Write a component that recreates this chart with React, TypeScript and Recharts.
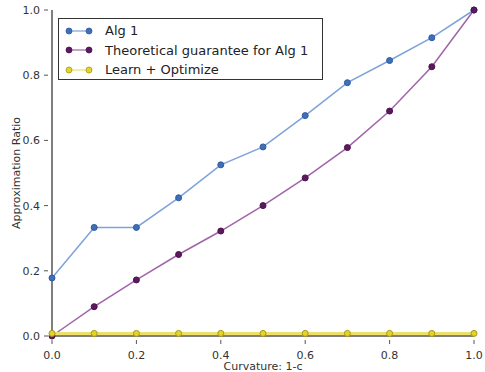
import React from 'react';
import { LineChart, Line, XAxis, YAxis } from 'recharts';

const curvature = [0, 0.1, 0.2, 0.3, 0.4, 0.5, 0.6, 0.7, 0.8, 0.9, 1.0];
const alg1 = [0.178, 0.333, 0.333, 0.424, 0.525, 0.58, 0.676, 0.777, 0.845, 0.915, 1.0];
const guarantee = [0.0, 0.09, 0.172, 0.25, 0.322, 0.4, 0.485, 0.578, 0.69, 0.826, 1.0];
const learnOpt = [0.008, 0.008, 0.008, 0.008, 0.008, 0.008, 0.008, 0.008, 0.008, 0.008, 0.008];
const ticks = [0, 0.2, 0.4, 0.6, 0.8, 1.0];

const data = curvature.map((c, i) => ({
  c,
  alg1: alg1[i],
  guarantee: guarantee[i],
  learnOpt: learnOpt[i],
}));

const FONT = '"DejaVu Sans", sans-serif';
const FRAME = '#555';

const series = [
  { key: 'alg1', name: 'Alg 1', line: '#7ea2da', dot: '#3f6fb8', dotStroke: '#2f5aa0' },
  { key: 'guarantee', name: 'Theoretical guarantee for Alg 1', line: '#a064a8', dot: '#5b1a5e', dotStroke: '#4a1050' },
  { key: 'learnOpt', name: 'Learn + Optimize', line: '#ecdf6a', dot: '#e3d32a', dotStroke: '#a89a10' },
];

// matplotlib-style ticks: small marks pointing into the plot
const BottomTick = (props: any) => {
  const { x, y, payload } = props;
  return (
    <g>
      <line x1={x} x2={x} y1={y} y2={y - 4} stroke={FRAME} />
      <text x={x} y={y + 15} textAnchor="middle" fontSize={11} fill="#333" fontFamily={FONT}>
        {payload.value.toFixed(1)}
      </text>
    </g>
  );
};
const TopTick = (props: any) => {
  const { x, y } = props;
  return <line x1={x} x2={x} y1={y} y2={y + 4} stroke={FRAME} />;
};
const LeftTick = (props: any) => {
  const { x, y, payload } = props;
  return (
    <g>
      <line x1={x} x2={x + 4} y1={y} y2={y} stroke={FRAME} />
      <text x={x - 4} y={y + 4} textAnchor="end" fontSize={11} fill="#333" fontFamily={FONT}>
        {payload.value.toFixed(1)}
      </text>
    </g>
  );
};
const RightTick = (props: any) => {
  const { x, y } = props;
  return <line x1={x} x2={x - 4} y1={y} y2={y} stroke={FRAME} />;
};

const LegendBox = () => (
  <div
    style={{
      position: 'absolute',
      left: 58,
      top: 18,
      border: '1px solid #333',
      background: '#fff',
      width: 265,
      height: 62,
      fontFamily: FONT,
      fontSize: 13,
      color: '#222',
      boxSizing: 'border-box',
      padding: '2px 0 0 6px',
    }}
  >
    {series.map((s) => (
      <div key={s.key} style={{ display: 'flex', alignItems: 'center', height: 19.5 }}>
        <svg width={32} height={10} style={{ marginRight: 8 }}>
          <line x1={4} x2={24} y1={5} y2={5} stroke={s.line} strokeWidth={1.2} />
          <circle cx={4} cy={5} r={3} fill={s.dot} stroke={s.dotStroke} strokeWidth={0.8} />
          <circle cx={24} cy={5} r={3} fill={s.dot} stroke={s.dotStroke} strokeWidth={0.8} />
        </svg>
        <span>{s.name}</span>
      </div>
    ))}
  </div>
);

export default function App() {
  return (
    <div style={{ position: 'absolute', left: 0, top: 0, width: 485, height: 372, background: '#fff' }}>
      <LineChart width={485} height={372} data={data} margin={{ top: 10, right: 11, left: 0, bottom: 0 }}>
        <XAxis
          xAxisId="b"
          dataKey="c"
          type="number"
          domain={[0, 1]}
          ticks={ticks}
          tick={<BottomTick />}
          tickLine={false}
          axisLine={{ stroke: FRAME, strokeWidth: 1.5 }}
          height={36}
          label={{ value: 'Curvature: 1-c', position: 'insideBottom', offset: 2, fontSize: 11, fill: '#333', fontFamily: FONT }}
        />
        <XAxis
          xAxisId="t"
          orientation="top"
          dataKey="c"
          type="number"
          domain={[0, 1]}
          ticks={ticks}
          tick={<TopTick />}
          tickLine={false}
          axisLine={{ stroke: FRAME, strokeWidth: 1.5 }}
          height={0}
        />
        <YAxis
          yAxisId="l"
          type="number"
          domain={[0, 1]}
          ticks={ticks}
          tick={<LeftTick />}
          tickLine={false}
          axisLine={{ stroke: FRAME, strokeWidth: 1.5 }}
          width={52}
          label={{ value: 'Approximation Ratio', angle: -90, position: 'insideLeft', offset: 16, fontSize: 11, fill: '#333', fontFamily: FONT, style: { textAnchor: 'middle' } }}
        />
        <YAxis
          yAxisId="r"
          orientation="right"
          type="number"
          domain={[0, 1]}
          ticks={ticks}
          tick={<RightTick />}
          tickLine={false}
          axisLine={{ stroke: FRAME, strokeWidth: 1.5 }}
          width={0}
        />
        {series.map((s) => (
          <Line
            key={s.key}
            xAxisId="b"
            yAxisId="l"
            dataKey={s.key}
            name={s.name}
            type="linear"
            stroke={s.line}
            strokeWidth={s.key === 'learnOpt' ? 3 : 1.5}
            dot={{ r: 3, fill: s.dot, stroke: s.dotStroke, strokeWidth: 1 }}
            isAnimationActive={false}
          />
        ))}
      </LineChart>
      <LegendBox />
    </div>
  );
}
